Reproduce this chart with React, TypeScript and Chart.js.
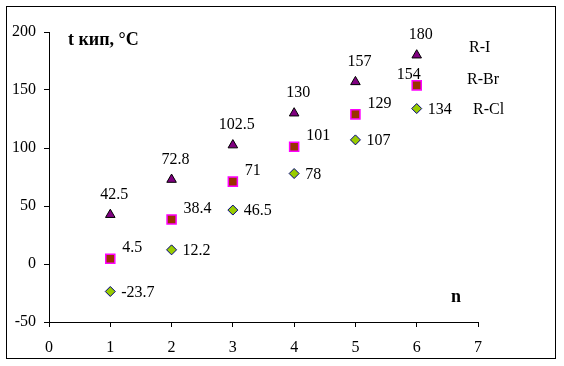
import React, { useEffect, useRef } from "react";
import { Chart, registerables } from "chart.js";

Chart.register(...registerables);

const nValues = [1, 2, 3, 4, 5, 6];
const iodides = [42.5, 72.8, 102.5, 130, 157, 180];
const bromides = [4.5, 38.4, 71, 101, 129, 154];
const chlorides = [-23.7, 12.2, 46.5, 78, 107, 134];
const seriesNames = ["R-I", "R-Br", "R-Cl"];
const yTitle = "t кип, °C";
const xTitle = "n";

const FONT = "'Liberation Serif', 'Times New Roman', serif";

const toPoints = (vals: number[]) => vals.map((v, i) => ({ x: nValues[i], y: v }));

const annotate = {
  id: "annotate",
  beforeDraw(chart: any) {
    const ctx = chart.ctx;
    ctx.save();
    ctx.fillStyle = "#ffffff";
    ctx.fillRect(0, 0, chart.width, chart.height);
    ctx.strokeStyle = "#000000";
    ctx.lineWidth = 1;
    ctx.strokeRect(6.5, 6.5, 549, 352);
    ctx.restore();
  },
  afterDatasetsDraw(chart: any) {
    const ctx = chart.ctx;
    const area = chart.chartArea;
    ctx.save();
    ctx.fillStyle = "#000000";
    ctx.textBaseline = "middle";
    ctx.font = `16px ${FONT}`;
    chart.data.datasets.forEach((ds: any, di: number) => {
      const meta = chart.getDatasetMeta(di);
      meta.data.forEach((el: any, j: number) => {
        const v = ds.data[j].y;
        const t = String(v);
        if (di === 0) {
          ctx.textAlign = "center";
          ctx.fillText(t, el.x + 4, el.y - 20);
        } else if (di === 1) {
          if (j === meta.data.length - 1) {
            ctx.textAlign = "center";
            ctx.fillText(t, el.x - 8, el.y - 11);
          } else {
            ctx.textAlign = "left";
            ctx.fillText(t, el.x + 12, el.y - 11);
          }
        } else {
          ctx.textAlign = "left";
          ctx.fillText(t, el.x + 11, el.y + 1);
        }
      });
    });
    // series names
    ctx.textAlign = "left";
    ctx.fillText(seriesNames[0], area.right - 9, 48);
    ctx.fillText(seriesNames[1], area.right - 11, 80);
    ctx.fillText(seriesNames[2], area.right - 5, 110);
    // axis titles
    ctx.font = `bold 18px ${FONT}`;
    ctx.fillText(yTitle, area.left + 19, 40);
    ctx.textAlign = "center";
    ctx.fillText(xTitle, area.left + 407, 297);
    ctx.restore();
  },
};

export default function App() {
  const ref = useRef<HTMLCanvasElement | null>(null);
  useEffect(() => {
    document.body.style.margin = "0";
    const canvas = ref.current!;
    const chart = new Chart(canvas, {
      type: "scatter",
      data: {
        datasets: [
          {
            label: seriesNames[0],
            data: toPoints(iodides),
            pointStyle: "triangle",
            pointRadius: 5.5,
            backgroundColor: "#800080",
            borderColor: "#000000",
            borderWidth: 1,
          },
          {
            label: seriesNames[1],
            data: toPoints(bromides),
            pointStyle: "rect",
            pointRadius: 6.4,
            backgroundColor: "#993300",
            borderColor: "#ff00ff",
            borderWidth: 1.5,
          },
          {
            label: seriesNames[2],
            data: toPoints(chlorides),
            pointStyle: "rectRot",
            pointRadius: 5,
            backgroundColor: "#99cc00",
            borderColor: "#000080",
            borderWidth: 1,
          },
        ],
      },
      options: {
        animation: false,
        responsive: false,
        devicePixelRatio: 1,
        layout: { padding: { top: 32, right: 86, left: 0, bottom: 0 } },
        plugins: {
          legend: { display: false },
          tooltip: { enabled: false },
          title: { display: false },
        },
        scales: {
          x: {
            type: "linear",
            min: 0,
            max: 7,
            ticks: {
              stepSize: 1,
              color: "#000000",
              font: { family: FONT, size: 16 },
              padding: 11,
              maxRotation: 0,
            },
            grid: {
              display: true,
              drawOnChartArea: false,
              drawTicks: true,
              tickLength: 5,
              color: "#000000",
            },
            border: { display: true, color: "#000000", width: 1 },
            afterFit: (s: any) => {
              s.height = 44;
            },
          },
          y: {
            type: "linear",
            min: -50,
            max: 200,
            ticks: {
              stepSize: 50,
              color: "#000000",
              font: { family: FONT, size: 16 },
              padding: 8,
            },
            grid: {
              display: true,
              drawOnChartArea: false,
              drawTicks: true,
              tickLength: 5,
              color: "#000000",
            },
            border: { display: true, color: "#000000", width: 1 },
            afterFit: (s: any) => {
              s.width = 49;
            },
          },
        },
      },
      plugins: [annotate],
    });
    return () => chart.destroy();
  }, []);
  return (
    <canvas
      ref={ref}
      width={564}
      height={366}
      style={{ display: "block", width: 564, height: 366 }}
    />
  );
}
